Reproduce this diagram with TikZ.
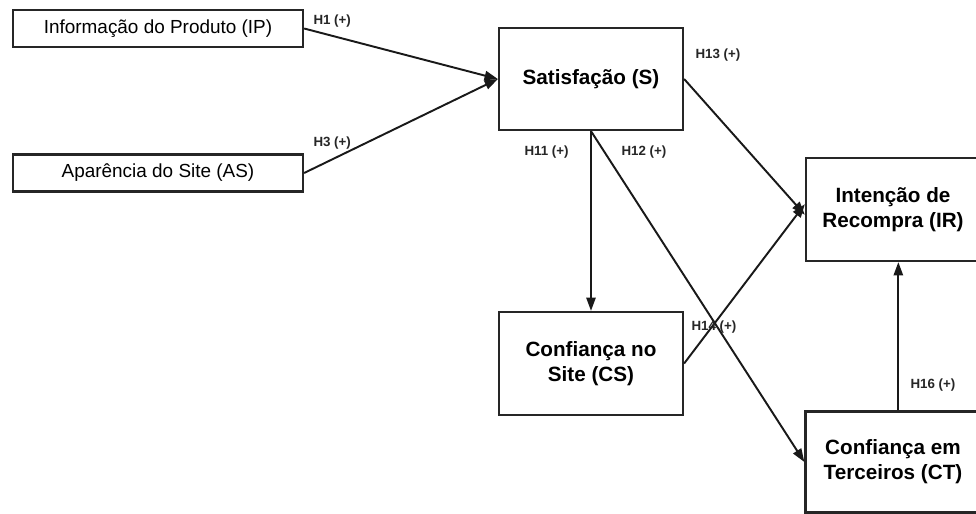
\documentclass[tikz,border=0pt]{standalone}
\usepackage{fontspec}
\setmainfont{Liberation Sans}
\usetikzlibrary{arrows.meta}

\tikzset{every picture/.style={line width=0.75pt}}
\tikzset{
  varbox/.style={draw=black!85, line width=1.7pt, rectangle, inner sep=0pt, align=center, font=\fontsize{15.5}{18.8}\selectfont\bfseries},
  itembox/.style={draw=black!85, line width=1.7pt, rectangle, inner sep=0pt, align=center, font=\fontsize{14.2}{17}\selectfont},
  hyp/.style={anchor=west, inner sep=0.75pt, font=\fontsize{10}{12}\selectfont\bfseries, text=black!85},
  path/.style={draw=black!90, line width=1.45pt, -{Triangle[length=10pt,width=7pt]}}
}

\begin{document}
\begin{tikzpicture}[x=0.75pt,y=0.75pt,yscale=-1,xscale=1]
\useasboundingbox (0,0) rectangle (976,514);

% Boxes
\draw (158,28.5) node [itembox, minimum width=290*0.75pt, minimum height=37*0.75pt] (ip) {Informação do Produto (IP)};
\draw (158,173) node [itembox, minimum width=290*0.75pt, minimum height=37*0.75pt] (as) {Aparência do Site (AS)};
\draw (591,79) node [varbox, minimum width=184*0.75pt, minimum height=102*0.75pt] (s) {Satisfação (S)};
\draw (591,363.5) node [varbox, minimum width=184*0.75pt, minimum height=103*0.75pt] (cs) {Confiança no\\Site (CS)};
\draw (893,209.5) node [varbox, minimum width=174*0.75pt, minimum height=103*0.75pt] (ir) {Intenção de\\Recompra (IR)};
\draw (893,462) node [varbox, minimum width=175*0.75pt, minimum height=101*0.75pt] (ct) {Confiança em\\Terceiros (CT)};

%Straight Lines
\draw [path] (ip.east) -- (s.west);
\draw [path] (as.east) -- (s.west);
\draw [path] (s.south) -- (cs.north);
\draw [path] (s.south) -- (ct.west);
\draw [path] (s.east) -- ([yshift=4pt]ir.west);
\draw [path] (cs.east) -- ([yshift=-4pt]ir.west);
\draw [path] ([xshift=4pt]ct.north) -- ([xshift=4pt]ir.south);

% Text Node
\draw (312,21) node [hyp] (h1) {H1 (+)};
% Text Node
\draw (312,143) node [hyp] (h3) {H3 (+)};
% Text Node
\draw (694,55) node [hyp] (h13) {H13 (+)};
% Text Node
\draw (523,152) node [hyp] (h11) {H11 (+)};
% Text Node
\draw (620,152) node [hyp] (h12) {H12 (+)};
% Text Node
\draw (690,327) node [hyp] (h14) {H14 (+)};
% Text Node
\draw (909,385) node [hyp] (h16) {H16 (+)};

\end{tikzpicture}
\end{document}
